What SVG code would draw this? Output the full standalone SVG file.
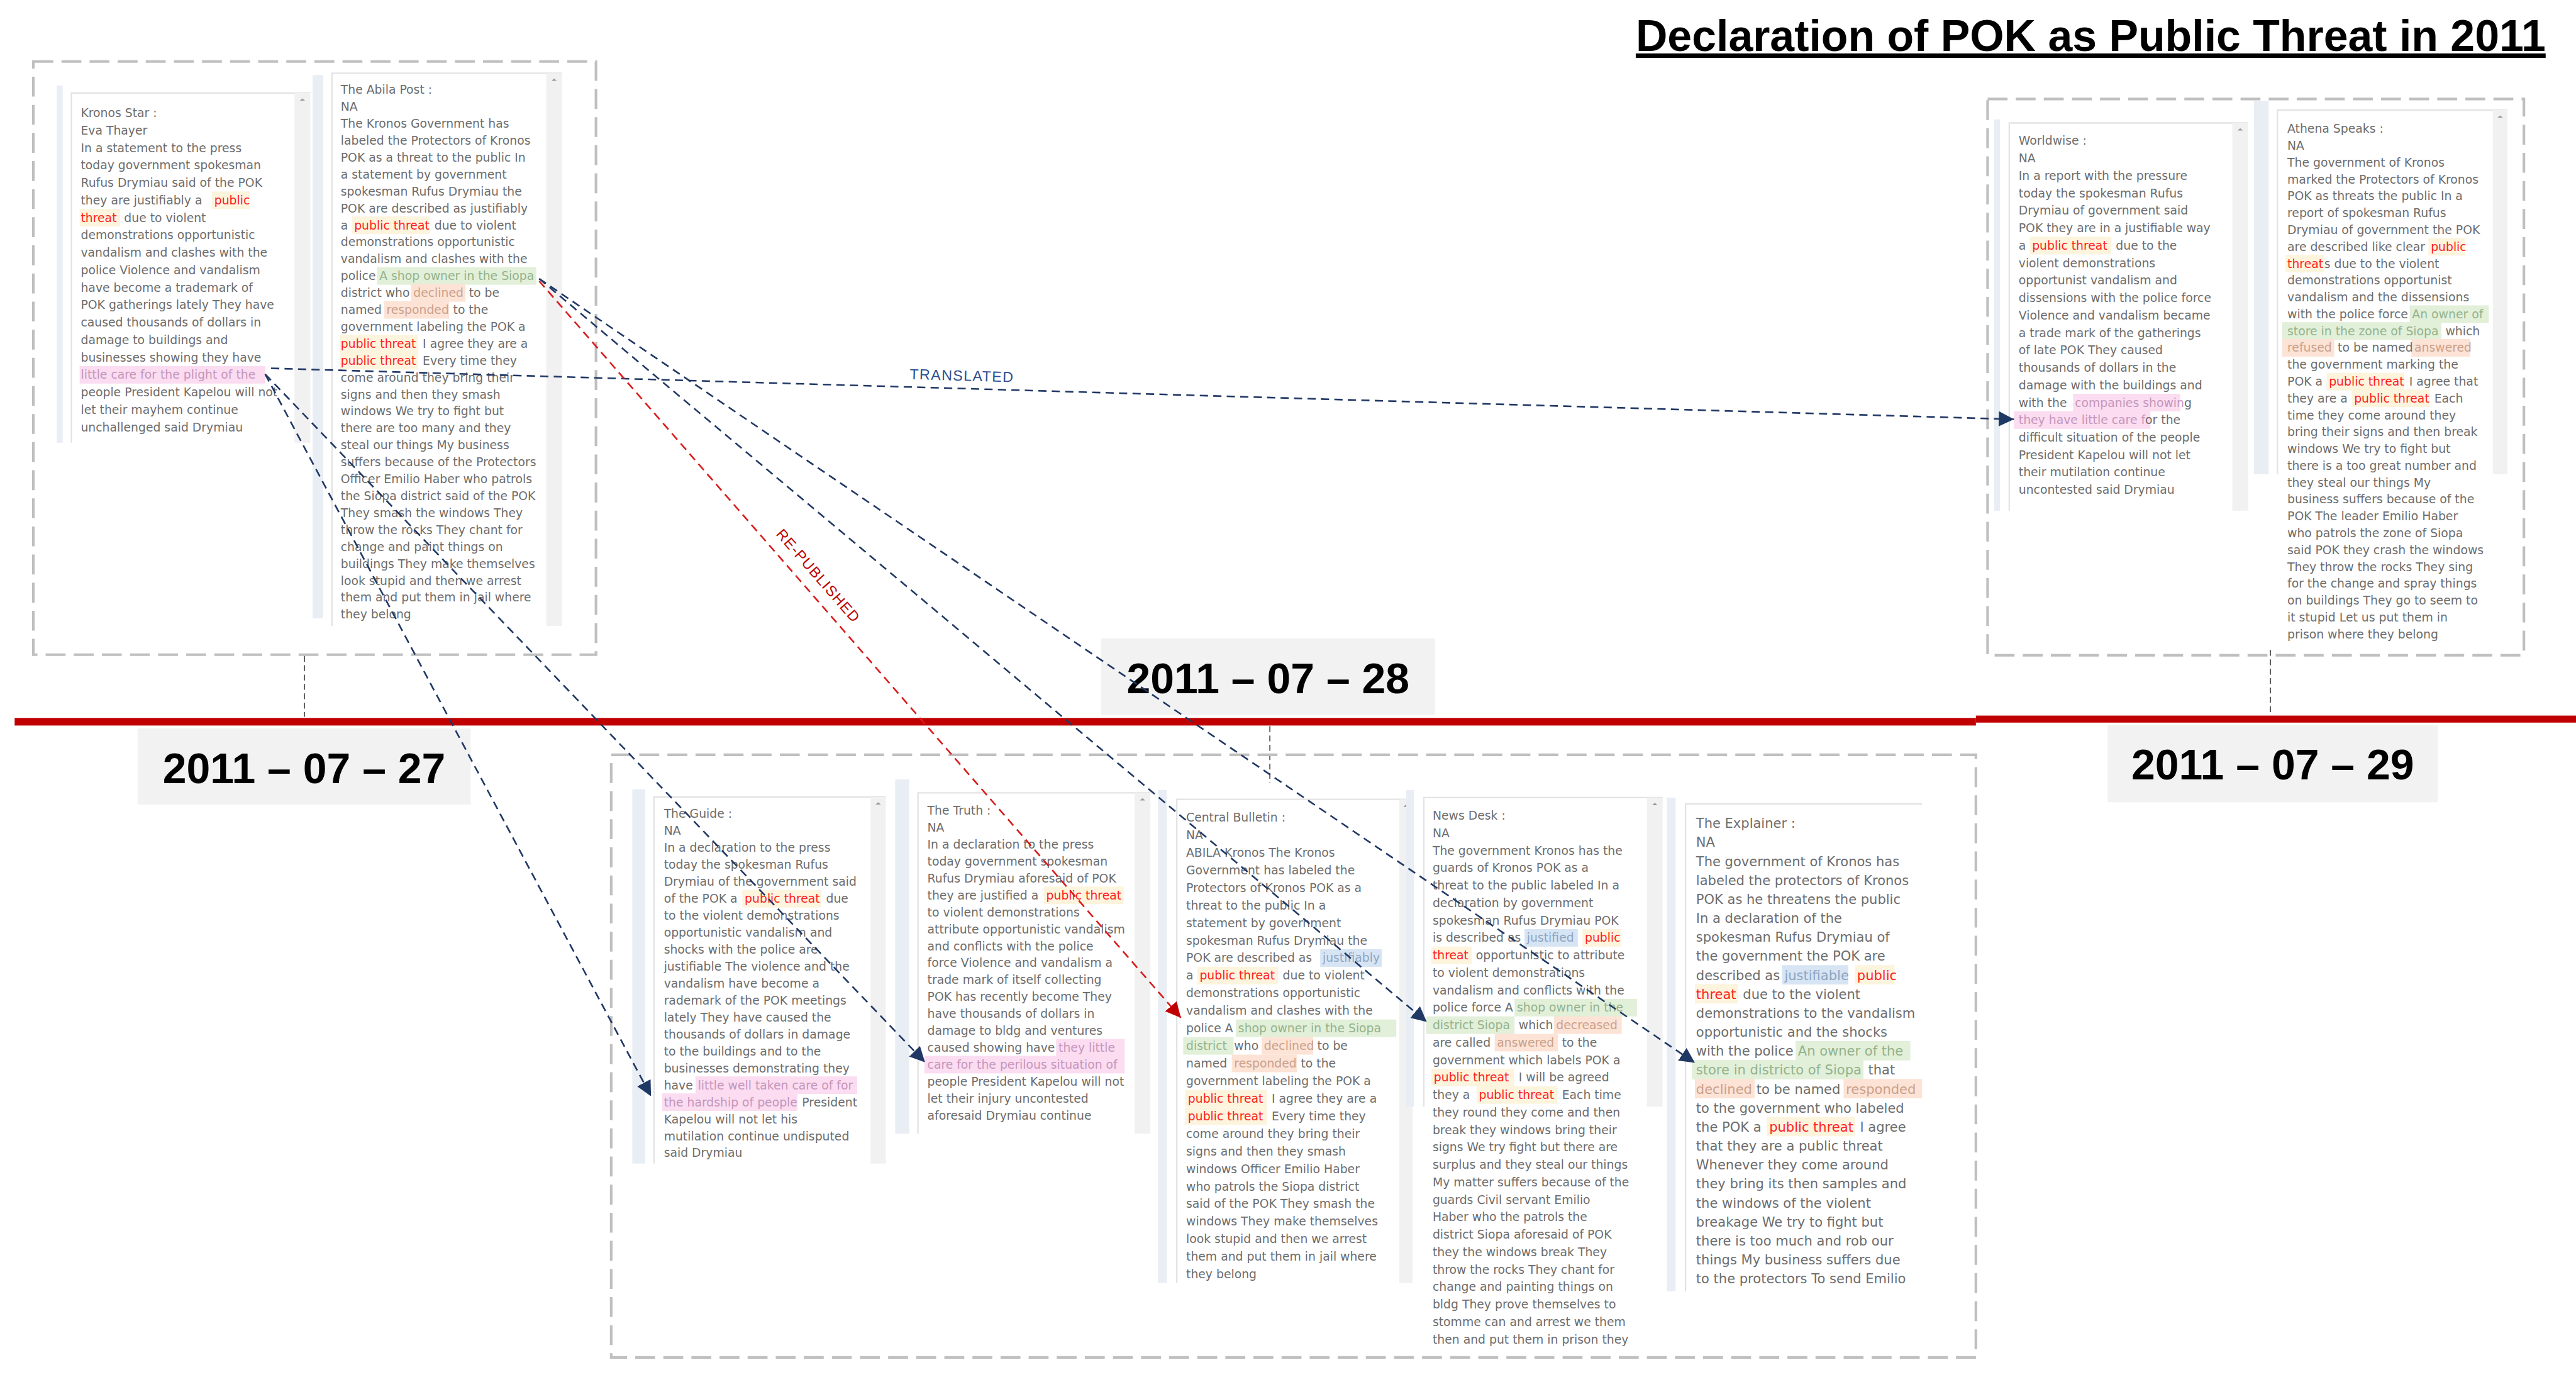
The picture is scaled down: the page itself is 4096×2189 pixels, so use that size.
<svg xmlns="http://www.w3.org/2000/svg" width="4096" height="2189" viewBox="0 0 4096 2189">
<style>
.t{font-family:"DejaVu Sans",Verdana,sans-serif;font-size:20.2px;fill:#6d6d6d}
.tx{font-size:22.6px}
.pt{fill:#ff2020}.pk{fill:#c596bb}.gr{fill:#93b38c}.pe{fill:#cba18c}.bl{fill:#8fa5c2}
.hpt{fill:#fdf4dd}.hpk{fill:#fbdcf1}.hgr{fill:#e2efd9}.hpe{fill:#fce3d5}.hbl{fill:#d6e4f3}
.strip{fill:#e9edf4}
.pb{fill:none;stroke:#e3e3e3;stroke-width:2.5}
.sb{fill:#f1f1f1}
.ar{fill:#9a9a9a}
.grp{fill:none;stroke:#bfbfbf;stroke-width:4.5;stroke-dasharray:34 14}
.tick{stroke:#595959;stroke-width:2;stroke-dasharray:10 6;fill:none}
.cn{fill:none;stroke:#203864;stroke-width:2.8;stroke-dasharray:14 9}
.cr{fill:none;stroke:#d91c1c;stroke-width:2.8;stroke-dasharray:14 9}
.date{font-family:"Liberation Sans",Arial,sans-serif;font-weight:bold;font-size:73px;fill:#000;text-anchor:middle}
.dbox{fill:#f2f2f2}
.lbl{font-family:"Liberation Sans",Arial,sans-serif;font-size:25px;letter-spacing:1.5px;text-anchor:middle}
</style>
<defs>
<marker id="ahn" markerUnits="userSpaceOnUse" markerWidth="26" markerHeight="26" viewBox="0 0 26 26" refX="26" refY="13" orient="auto"><path d="M0,0 L26,13 L0,26 z" fill="#203864"/></marker>
<marker id="ahr" markerUnits="userSpaceOnUse" markerWidth="26" markerHeight="26" viewBox="0 0 26 26" refX="26" refY="13" orient="auto"><path d="M0,0 L26,13 L0,26 z" fill="#c00000"/></marker>
</defs>
<rect width="4096" height="2189" fill="#fff"/>
<g transform="scale(0.930909)">

<g id="title">
<text x="2794" y="87" font-family="Liberation Sans, Arial, sans-serif" font-weight="bold" font-size="75" fill="#000" text-decoration="underline">Declaration of POK as Public Threat in 2011</text>
</g>

<g id="timeline">
<rect x="25" y="1226" width="3350" height="13" fill="#c00000"/>
<rect x="3375" y="1222" width="1025" height="12" fill="#c00000"/>
<path class="tick" d="M520,1120 V1224"/>
<path class="tick" d="M2169,1240 V1337"/>
<path class="tick" d="M3878,1110 V1220"/>
</g>

<g id="date-0727"><rect class="dbox" x="235" y="1244" width="569" height="130"/><text class="date" x="519.5" y="1337">2011 – 07 – 27</text></g>
<g id="date-0728"><rect class="dbox" x="1881" y="1090" width="570" height="131"/><text class="date" x="2166" y="1184">2011 – 07 – 28</text></g>
<g id="date-0729"><rect class="dbox" x="3600" y="1238" width="564" height="132"/><text class="date" x="3882" y="1331">2011 – 07 – 29</text></g>

<g id="group-0727"><rect class="grp" x="57" y="105" width="961" height="1013"/></g>
<g id="group-0728"><rect class="grp" x="1044" y="1289" width="2331" height="1029"/></g>
<g id="group-0729"><rect class="grp" x="3395" y="169" width="916" height="950"/></g>

<g id="kronos-star">
<rect class="strip" x="97" y="146" width="10" height="610"/>
<path class="pb" d="M122,756 V159 H530"/>
<rect class="sb" x="503" y="159" width="27" height="597"/>
<path class="ar" d="M512,172 l4.5,-4 l4.5,4z"/>
<rect class="hpt" x="362" y="327" width="65" height="30"/>
<rect class="hpt" x="136" y="356.8" width="69" height="30"/>
<rect class="hpk" x="136" y="625" width="317" height="30"/>
<text class="t" x="138" y="200">Kronos Star :</text>
<text class="t" x="138" y="229.8">Eva Thayer</text>
<text class="t" x="138" y="259.6">In a statement to the press</text>
<text class="t" x="138" y="289.4">today government spokesman</text>
<text class="t" x="138" y="319.2">Rufus Drymiau said of the POK</text>
<text class="t" x="138" y="349">they are justifiably a <tspan class="pt" x="366">public</tspan></text>
<text class="t" x="138" y="378.8"><tspan class="pt">threat</tspan><tspan x="212">due to violent</tspan></text>
<text class="t" x="138" y="408.6">demonstrations opportunistic</text>
<text class="t" x="138" y="438.4">vandalism and clashes with the</text>
<text class="t" x="138" y="468.2">police Violence and vandalism</text>
<text class="t" x="138" y="498">have become a trademark of</text>
<text class="t" x="138" y="527.8">POK gatherings lately They have</text>
<text class="t" x="138" y="557.6">caused thousands of dollars in</text>
<text class="t" x="138" y="587.4">damage to buildings and</text>
<text class="t" x="138" y="617.2">businesses showing they have</text>
<text class="t pk" x="138" y="647">little care for the plight of the</text>
<text class="t" x="138" y="676.8">people President Kapelou will not</text>
<text class="t" x="138" y="706.6">let their mayhem continue</text>
<text class="t" x="138" y="736.4">unchallenged said Drymiau</text>
</g>

<g id="abila-post">
<rect class="strip" x="534" y="128" width="18" height="928"/>
<path class="pb" d="M567,1069 V125 H960"/>
<rect class="sb" x="933" y="125" width="27" height="944"/>
<path class="ar" d="M942,138 l4.5,-4 l4.5,4z"/>
<rect class="hpt" x="601" y="369.6" width="133" height="30"/>
<rect class="hgr" x="644" y="456.3" width="272" height="30"/>
<rect class="hpe" x="702" y="485.2" width="93" height="30"/>
<rect class="hpe" x="656" y="514.1" width="111" height="30"/>
<rect class="hpt" x="580" y="571.9" width="134" height="30"/>
<rect class="hpt" x="580" y="600.8" width="134" height="30"/>
<text class="t" x="582" y="160.4">The Abila Post :</text>
<text class="t" x="582" y="189.3">NA</text>
<text class="t" x="582" y="218.2">The Kronos Government has</text>
<text class="t" x="582" y="247.1">labeled the Protectors of Kronos</text>
<text class="t" x="582" y="276">POK as a threat to the public In</text>
<text class="t" x="582" y="304.9">a statement by government</text>
<text class="t" x="582" y="333.8">spokesman Rufus Drymiau the</text>
<text class="t" x="582" y="362.7">POK are described as justifiably</text>
<text class="t" x="582" y="391.6">a <tspan class="pt" x="605">public threat</tspan><tspan x="742">due to violent</tspan></text>
<text class="t" x="582" y="420.5">demonstrations opportunistic</text>
<text class="t" x="582" y="449.4">vandalism and clashes with the</text>
<text class="t" x="582" y="478.3">police <tspan class="gr" x="648">A shop owner in the Siopa</tspan></text>
<text class="t" x="582" y="507.2">district who <tspan class="pe" x="706">declined</tspan><tspan x="801">to be</tspan></text>
<text class="t" x="582" y="536.1">named <tspan class="pe" x="660">responded</tspan><tspan x="774">to the</tspan></text>
<text class="t" x="582" y="565">government labeling the POK a</text>
<text class="t" x="582" y="593.9"><tspan class="pt">public threat</tspan><tspan x="722">I agree they are a</tspan></text>
<text class="t" x="582" y="622.8"><tspan class="pt">public threat</tspan><tspan x="722">Every time they</tspan></text>
<text class="t" x="582" y="651.7">come around they bring their</text>
<text class="t" x="582" y="680.6">signs and then they smash</text>
<text class="t" x="582" y="709.5">windows We try to fight but</text>
<text class="t" x="582" y="738.4">there are too many and they</text>
<text class="t" x="582" y="767.3">steal our things My business</text>
<text class="t" x="582" y="796.2">suffers because of the Protectors</text>
<text class="t" x="582" y="825.1">Officer Emilio Haber who patrols</text>
<text class="t" x="582" y="854">the Siopa district said of the POK</text>
<text class="t" x="582" y="882.9">They smash the windows They</text>
<text class="t" x="582" y="911.8">throw the rocks They chant for</text>
<text class="t" x="582" y="940.7">change and paint things on</text>
<text class="t" x="582" y="969.6">buildings They make themselves</text>
<text class="t" x="582" y="998.5">look stupid and then we arrest</text>
<text class="t" x="582" y="1027.4">them and put them in jail where</text>
<text class="t" x="582" y="1056.3">they belong</text>
</g>

<g id="worldwise">
<rect class="strip" x="3406" y="204" width="10" height="668"/>
<path class="pb" d="M3432,872 V210 H3840"/>
<rect class="sb" x="3813" y="210" width="27" height="662"/>
<path class="ar" d="M3822,223 l4.5,-4 l4.5,4z"/>
<rect class="hpt" x="3467" y="404.3" width="139" height="30"/>
<rect class="hpk" x="3541" y="672.5" width="183" height="30"/>
<rect class="hpk" x="3440" y="702.3" width="233" height="30"/>
<text class="t" x="3448" y="247.5">Worldwise :</text>
<text class="t" x="3448" y="277.3">NA</text>
<text class="t" x="3448" y="307.1">In a report with the pressure</text>
<text class="t" x="3448" y="336.9">today the spokesman Rufus</text>
<text class="t" x="3448" y="366.7">Drymiau of government said</text>
<text class="t" x="3448" y="396.5">POK they are in a justifiable way</text>
<text class="t" x="3448" y="426.3">a <tspan class="pt" x="3471">public threat</tspan><tspan x="3614">due to the</tspan></text>
<text class="t" x="3448" y="456.1">violent demonstrations</text>
<text class="t" x="3448" y="485.9">opportunist vandalism and</text>
<text class="t" x="3448" y="515.7">dissensions with the police force</text>
<text class="t" x="3448" y="545.5">Violence and vandalism became</text>
<text class="t" x="3448" y="575.3">a trade mark of the gatherings</text>
<text class="t" x="3448" y="605.1">of late POK They caused</text>
<text class="t" x="3448" y="634.9">thousands of dollars in the</text>
<text class="t" x="3448" y="664.7">damage with the buildings and</text>
<text class="t" x="3448" y="694.5">with the <tspan class="pk" x="3544">companies showin</tspan>g</text>
<text class="t" x="3448" y="724.3"><tspan class="pk">they have little care f</tspan>or the</text>
<text class="t" x="3448" y="754.1">difficult situation of the people</text>
<text class="t" x="3448" y="783.9">President Kapelou will not let</text>
<text class="t" x="3448" y="813.7">their mutilation continue</text>
<text class="t" x="3448" y="843.5">uncontested said Drymiau</text>
</g>

<g id="athena-speaks">
<rect class="strip" x="3850" y="172" width="25" height="638"/>
<path class="pb" d="M3890,810 V188 H4283"/>
<rect class="sb" x="4258" y="188" width="25" height="622"/>
<path class="ar" d="M4266,201 l4.5,-4 l4.5,4z"/>
<rect class="hpt" x="4148" y="406.4" width="62" height="30"/>
<rect class="hpt" x="3904" y="435.2" width="66" height="30"/>
<rect class="hgr" x="4116" y="521.5" width="135" height="30"/>
<rect class="hgr" x="3898" y="550.2" width="272" height="30"/>
<rect class="hpe" x="3898" y="579" width="89" height="30"/>
<rect class="hpe" x="4119" y="579" width="100" height="30"/>
<rect class="hpt" x="3974" y="636.6" width="133" height="30"/>
<rect class="hpt" x="4017" y="665.3" width="133" height="30"/>
<text class="t" x="3907" y="227">Athena Speaks :</text>
<text class="t" x="3907" y="255.8">NA</text>
<text class="t" x="3907" y="284.5">The government of Kronos</text>
<text class="t" x="3907" y="313.3">marked the Protectors of Kronos</text>
<text class="t" x="3907" y="342.1">POK as threats the public In a</text>
<text class="t" x="3907" y="370.9">report of spokesman Rufus</text>
<text class="t" x="3907" y="399.6">Drymiau of government the POK</text>
<text class="t" x="3907" y="428.4">are described like clear <tspan class="pt" x="4152">public</tspan></text>
<text class="t" x="3907" y="457.2"><tspan class="pt">threat</tspan><tspan x="3970">s due to the violent</tspan></text>
<text class="t" x="3907" y="485.9">demonstrations opportunist</text>
<text class="t" x="3907" y="514.7">vandalism and the dissensions</text>
<text class="t" x="3907" y="543.5">with the police force <tspan class="gr" x="4120">An owner of</tspan></text>
<text class="t" x="3907" y="572.2"><tspan class="gr">store in the zone of Siopa</tspan><tspan x="4177">which</tspan></text>
<text class="t" x="3907" y="601"><tspan class="pe">refused</tspan><tspan x="3993">to be named</tspan><tspan class="pe" x="4124">answered</tspan></text>
<text class="t" x="3907" y="629.8">the government marking the</text>
<text class="t" x="3907" y="658.6">POK a <tspan class="pt" x="3978">public threat</tspan><tspan x="4115">I agree that</tspan></text>
<text class="t" x="3907" y="687.3">they are a <tspan class="pt" x="4021">public threat</tspan><tspan x="4158">Each</tspan></text>
<text class="t" x="3907" y="716.1">time they come around they</text>
<text class="t" x="3907" y="744.9">bring their signs and then break</text>
<text class="t" x="3907" y="773.6">windows We try to fight but</text>
<text class="t" x="3907" y="802.4">there is a too great number and</text>
<text class="t" x="3907" y="831.2">they steal our things My</text>
<text class="t" x="3907" y="859.9">business suffers because of the</text>
<text class="t" x="3907" y="888.7">POK The leader Emilio Haber</text>
<text class="t" x="3907" y="917.5">who patrols the zone of Siopa</text>
<text class="t" x="3907" y="946.3">said POK they crash the windows</text>
<text class="t" x="3907" y="975">They throw the rocks They sing</text>
<text class="t" x="3907" y="1003.8">for the change and spray things</text>
<text class="t" x="3907" y="1032.6">on buildings They go to seem to</text>
<text class="t" x="3907" y="1061.3">it stupid Let us put them in</text>
<text class="t" x="3907" y="1090.1">prison where they belong</text>
</g>

<g id="the-guide">
<rect class="strip" x="1080" y="1348" width="22" height="639"/>
<path class="pb" d="M1117,1987 V1361 H1513"/>
<rect class="sb" x="1487" y="1361" width="26" height="626"/>
<path class="ar" d="M1495.5,1374 l4.5,-4 l4.5,4z"/>
<rect class="hpt" x="1268" y="1519.75" width="135" height="30"/>
<rect class="hpk" x="1188" y="1838.2" width="276" height="30"/>
<rect class="hpk" x="1131" y="1867.15" width="231" height="30"/>
<text class="t" x="1134" y="1397">The Guide :</text>
<text class="t" x="1134" y="1425.95">NA</text>
<text class="t" x="1134" y="1454.9">In a declaration to the press</text>
<text class="t" x="1134" y="1483.85">today the spokesman Rufus</text>
<text class="t" x="1134" y="1512.8">Drymiau of the government said</text>
<text class="t" x="1134" y="1541.75">of the POK a <tspan class="pt" x="1272">public threat</tspan><tspan x="1411">due</tspan></text>
<text class="t" x="1134" y="1570.7">to the violent demonstrations</text>
<text class="t" x="1134" y="1599.65">opportunistic vandalism and</text>
<text class="t" x="1134" y="1628.6">shocks with the police are</text>
<text class="t" x="1134" y="1657.55">justifiable The violence and the</text>
<text class="t" x="1134" y="1686.5">vandalism have become a</text>
<text class="t" x="1134" y="1715.45">rademark of the POK meetings</text>
<text class="t" x="1134" y="1744.4">lately They have caused the</text>
<text class="t" x="1134" y="1773.35">thousands of dollars in damage</text>
<text class="t" x="1134" y="1802.3">to the buildings and to the</text>
<text class="t" x="1134" y="1831.25">businesses demonstrating they</text>
<text class="t" x="1134" y="1860.2">have <tspan class="pk" x="1192">little well taken care of for</tspan></text>
<text class="t" x="1134" y="1889.15"><tspan class="pk">the hardship of people</tspan><tspan x="1370">President</tspan></text>
<text class="t" x="1134" y="1918.1">Kapelou will not let his</text>
<text class="t" x="1134" y="1947.05">mutilation continue undisputed</text>
<text class="t" x="1134" y="1976">said Drymiau</text>
</g>

<g id="the-truth">
<rect class="strip" x="1529" y="1331" width="24" height="605"/>
<path class="pb" d="M1568,1936 V1354 H1965"/>
<rect class="sb" x="1938" y="1354" width="27" height="582"/>
<path class="ar" d="M1947,1367 l4.5,-4 l4.5,4z"/>
<rect class="hpt" x="1783" y="1514" width="136" height="30"/>
<rect class="hpk" x="1804" y="1774.1" width="117" height="30"/>
<rect class="hpk" x="1579" y="1803" width="342" height="30"/>
<text class="t" x="1584" y="1391.5">The Truth :</text>
<text class="t" x="1584" y="1420.4">NA</text>
<text class="t" x="1584" y="1449.3">In a declaration to the press</text>
<text class="t" x="1584" y="1478.2">today government spokesman</text>
<text class="t" x="1584" y="1507.1">Rufus Drymiau aforesaid of POK</text>
<text class="t" x="1584" y="1536">they are justified a <tspan class="pt" x="1787">public threat</tspan></text>
<text class="t" x="1584" y="1564.9">to violent demonstrations</text>
<text class="t" x="1584" y="1593.8">attribute opportunistic vandalism</text>
<text class="t" x="1584" y="1622.7">and conflicts with the police</text>
<text class="t" x="1584" y="1651.6">force Violence and vandalism a</text>
<text class="t" x="1584" y="1680.5">trade mark of itself collecting</text>
<text class="t" x="1584" y="1709.4">POK has recently become They</text>
<text class="t" x="1584" y="1738.3">have thousands of dollars in</text>
<text class="t" x="1584" y="1767.2">damage to bldg and ventures</text>
<text class="t" x="1584" y="1796.1">caused showing have <tspan class="pk" x="1808">they little</tspan></text>
<text class="t pk" x="1584" y="1825">care for the perilous situation of</text>
<text class="t" x="1584" y="1853.9">people President Kapelou will not</text>
<text class="t" x="1584" y="1882.8">let their injury uncontested</text>
<text class="t" x="1584" y="1911.7">aforesaid Drymiau continue</text>
</g>

<g id="central-bulletin">
<rect class="strip" x="1978" y="1349" width="15" height="842"/>
<path class="pb" d="M2010,2191 V1365 H2413"/>
<rect class="sb" x="2390" y="1365" width="23" height="826"/>
<path class="ar" d="M2397,1378 l4.5,-4 l4.5,4z"/>
<rect class="hbl" x="2255" y="1621" width="105" height="30"/>
<rect class="hpt" x="2045" y="1651" width="138" height="30"/>
<rect class="hgr" x="2111" y="1741" width="274" height="30"/>
<rect class="hgr" x="2021" y="1771" width="86" height="30"/>
<rect class="hpe" x="2155" y="1771" width="88" height="30"/>
<rect class="hpe" x="2104" y="1801" width="111" height="30"/>
<rect class="hpt" x="2024" y="1861" width="140" height="30"/>
<rect class="hpt" x="2024" y="1891" width="140" height="30"/>
<text class="t" x="2026" y="1403">Central Bulletin :</text>
<text class="t" x="2026" y="1433">NA</text>
<text class="t" x="2026" y="1463">ABILA Kronos The Kronos</text>
<text class="t" x="2026" y="1493">Government has labeled the</text>
<text class="t" x="2026" y="1523">Protectors of Kronos POK as a</text>
<text class="t" x="2026" y="1553">threat to the public In a</text>
<text class="t" x="2026" y="1583">statement by government</text>
<text class="t" x="2026" y="1613">spokesman Rufus Drymiau the</text>
<text class="t" x="2026" y="1643">POK are described as <tspan class="bl" x="2259">justifiably</tspan></text>
<text class="t" x="2026" y="1673">a <tspan class="pt" x="2049">public threat</tspan><tspan x="2191">due to violent</tspan></text>
<text class="t" x="2026" y="1703">demonstrations opportunistic</text>
<text class="t" x="2026" y="1733">vandalism and clashes with the</text>
<text class="t" x="2026" y="1763">police A <tspan class="gr" x="2115">shop owner in the Siopa</tspan></text>
<text class="t" x="2026" y="1793"><tspan class="gr">district</tspan><tspan x="2108">who</tspan><tspan class="pe" x="2159">declined</tspan><tspan x="2250">to be</tspan></text>
<text class="t" x="2026" y="1823">named <tspan class="pe" x="2108">responded</tspan><tspan x="2222">to the</tspan></text>
<text class="t" x="2026" y="1853">government labeling the POK a</text>
<text class="t" x="2026" y="1883"><tspan class="pt" x="2029">public threat</tspan><tspan x="2172">I agree they are a</tspan></text>
<text class="t" x="2026" y="1913"><tspan class="pt" x="2029">public threat</tspan><tspan x="2172">Every time they</tspan></text>
<text class="t" x="2026" y="1943">come around they bring their</text>
<text class="t" x="2026" y="1973">signs and then they smash</text>
<text class="t" x="2026" y="2003">windows Officer Emilio Haber</text>
<text class="t" x="2026" y="2033">who patrols the Siopa district</text>
<text class="t" x="2026" y="2063">said of the POK They smash the</text>
<text class="t" x="2026" y="2093">windows They make themselves</text>
<text class="t" x="2026" y="2123">look stupid and then we arrest</text>
<text class="t" x="2026" y="2153">them and put them in jail where</text>
<text class="t" x="2026" y="2183">they belong</text>
</g>

<g id="news-desk">
<rect class="strip" x="2402" y="1349" width="13" height="541"/>
<path class="pb" d="M2432,1890 V1362 H2840"/>
<rect class="sb" x="2813" y="1362" width="27" height="528"/>
<path class="ar" d="M2822,1375 l4.5,-4 l4.5,4z"/>
<rect class="hbl" x="2604" y="1586.6" width="91" height="30"/>
<rect class="hpt" x="2703" y="1586.6" width="65" height="30"/>
<rect class="hpt" x="2445" y="1616.4" width="69" height="30"/>
<rect class="hgr" x="2587" y="1705.8" width="209" height="30"/>
<rect class="hgr" x="2436" y="1735.6" width="151" height="30"/>
<rect class="hpe" x="2654" y="1735.6" width="116" height="30"/>
<rect class="hpe" x="2553" y="1765.4" width="108" height="30"/>
<rect class="hpt" x="2445" y="1825" width="141" height="30"/>
<rect class="hpt" x="2522" y="1854.8" width="138" height="30"/>
<text class="t" x="2447" y="1400">News Desk :</text>
<text class="t" x="2447" y="1429.8">NA</text>
<text class="t" x="2447" y="1459.6">The government Kronos has the</text>
<text class="t" x="2447" y="1489.4">guards of Kronos POK as a</text>
<text class="t" x="2447" y="1519.2">threat to the public labeled In a</text>
<text class="t" x="2447" y="1549">declaration by government</text>
<text class="t" x="2447" y="1578.8">spokesman Rufus Drymiau POK</text>
<text class="t" x="2447" y="1608.6">is described as <tspan class="bl" x="2608">justified</tspan><tspan class="pt" x="2707">public</tspan></text>
<text class="t" x="2447" y="1638.4"><tspan class="pt">threat</tspan><tspan x="2521">opportunistic to attribute</tspan></text>
<text class="t" x="2447" y="1668.2">to violent demonstrations</text>
<text class="t" x="2447" y="1698">vandalism and conflicts with the</text>
<text class="t" x="2447" y="1727.8">police force A <tspan class="gr" x="2591">shop owner in the</tspan></text>
<text class="t" x="2447" y="1757.6"><tspan class="gr">district Siopa</tspan><tspan x="2594">which</tspan><tspan class="pe" x="2658">decreased</tspan></text>
<text class="t" x="2447" y="1787.4">are called <tspan class="pe" x="2557">answered</tspan><tspan x="2668">to the</tspan></text>
<text class="t" x="2447" y="1817.2">government which labels POK a</text>
<text class="t" x="2447" y="1847"><tspan class="pt" x="2449">public threat</tspan><tspan x="2594">I will be agreed</tspan></text>
<text class="t" x="2447" y="1876.8">they a <tspan class="pt" x="2526">public threat</tspan><tspan x="2668">Each time</tspan></text>
<text class="t" x="2447" y="1906.6">they round they come and then</text>
<text class="t" x="2447" y="1936.4">break they windows bring their</text>
<text class="t" x="2447" y="1966.2">signs We try fight but there are</text>
<text class="t" x="2447" y="1996">surplus and they steal our things</text>
<text class="t" x="2447" y="2025.8">My matter suffers because of the</text>
<text class="t" x="2447" y="2055.6">guards Civil servant Emilio</text>
<text class="t" x="2447" y="2085.4">Haber who the patrols the</text>
<text class="t" x="2447" y="2115.2">district Siopa aforesaid of POK</text>
<text class="t" x="2447" y="2145">they the windows break They</text>
<text class="t" x="2447" y="2174.8">throw the rocks They chant for</text>
<text class="t" x="2447" y="2204.6">change and painting things on</text>
<text class="t" x="2447" y="2234.4">bldg They prove themselves to</text>
<text class="t" x="2447" y="2264.2">stomme can and arrest we them</text>
<text class="t" x="2447" y="2294">then and put them in prison they</text>
</g>

<g id="the-explainer">
<rect class="strip" x="2847" y="1362" width="15" height="843"/>
<path class="pb" d="M2879,2205 V1373 H3283"/>
<rect class="hbl" x="3044" y="1648.2" width="113" height="33"/>
<rect class="hpt" x="3168" y="1648.2" width="68" height="33"/>
<rect class="hpt" x="2895" y="1680.6" width="74" height="33"/>
<rect class="hgr" x="3067" y="1777.8" width="196" height="33"/>
<rect class="hgr" x="2890" y="1810.2" width="293" height="33"/>
<rect class="hpe" x="2895" y="1842.6" width="102" height="33"/>
<rect class="hpe" x="3149" y="1842.6" width="134" height="33"/>
<rect class="hpt" x="3018" y="1907.4" width="150" height="33"/>
<text class="t tx" x="2897" y="1414">The Explainer :</text>
<text class="t tx" x="2897" y="1446.4">NA</text>
<text class="t tx" x="2897" y="1478.8">The government of Kronos has</text>
<text class="t tx" x="2897" y="1511.2">labeled the protectors of Kronos</text>
<text class="t tx" x="2897" y="1543.6">POK as he threatens the public</text>
<text class="t tx" x="2897" y="1576">In a declaration of the</text>
<text class="t tx" x="2897" y="1608.4">spokesman Rufus Drymiau of</text>
<text class="t tx" x="2897" y="1640.8">the government the POK are</text>
<text class="t tx" x="2897" y="1673.2">described as <tspan class="bl" x="3048">justifiable</tspan><tspan class="pt" x="3172">public</tspan></text>
<text class="t tx" x="2897" y="1705.6"><tspan class="pt">threat</tspan><tspan x="2977">due to the violent</tspan></text>
<text class="t tx" x="2897" y="1738">demonstrations to the vandalism</text>
<text class="t tx" x="2897" y="1770.4">opportunistic and the shocks</text>
<text class="t tx" x="2897" y="1802.8">with the police <tspan class="gr" x="3071">An owner of the</tspan></text>
<text class="t tx" x="2897" y="1835.2"><tspan class="gr">store in districto of Siopa</tspan><tspan x="3191">that</tspan></text>
<text class="t tx" x="2897" y="1867.6"><tspan class="pe">declined</tspan><tspan x="3000">to be named</tspan><tspan class="pe" x="3153">responded</tspan></text>
<text class="t tx" x="2897" y="1900">to the government who labeled</text>
<text class="t tx" x="2897" y="1932.4">the POK a <tspan class="pt" x="3022">public threat</tspan><tspan x="3177">I agree</tspan></text>
<text class="t tx" x="2897" y="1964.8">that they are a public threat</text>
<text class="t tx" x="2897" y="1997.2">Whenever they come around</text>
<text class="t tx" x="2897" y="2029.6">they bring its then samples and</text>
<text class="t tx" x="2897" y="2062">the windows of the violent</text>
<text class="t tx" x="2897" y="2094.4">breakage We try to fight but</text>
<text class="t tx" x="2897" y="2126.8">there is too much and rob our</text>
<text class="t tx" x="2897" y="2159.2">things My business suffers due</text>
<text class="t tx" x="2897" y="2191.6">to the protectors To send Emilio</text>
</g>

<g id="connectors">
<path class="cn" d="M463,629 L3440,716" marker-end="url(#ahn)"/>
<path class="cn" d="M453,639 L1112,1872" marker-end="url(#ahn)"/>
<path class="cn" d="M453,639 L1580,1814" marker-end="url(#ahn)"/>
<path class="cr" d="M921,480 L2017,1738" marker-end="url(#ahr)"/>
<path class="cn" d="M921,476 L2437,1745" marker-end="url(#ahn)"/>
<path class="cn" d="M921,476 L2895,1815" marker-end="url(#ahn)"/>
<text class="lbl" x="1643" y="650" fill="#2f4f8f" transform="rotate(1.67 1643 640)">TRANSLATED</text>
<text class="lbl" x="1398" y="992" fill="#c00000" transform="rotate(48.9 1398 983)">RE-PUBLISHED</text>
</g>

</g>
</svg>
